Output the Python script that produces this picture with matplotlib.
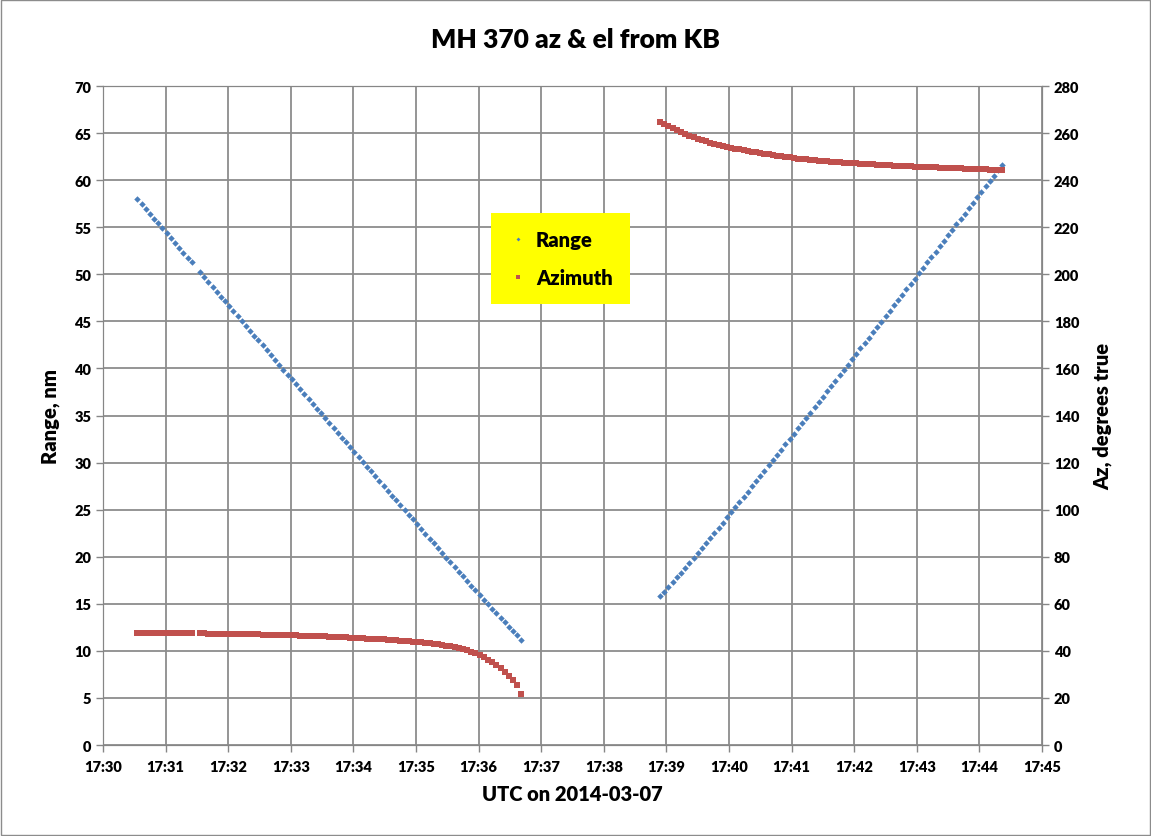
import numpy as np
import matplotlib
matplotlib.use("Agg")
import matplotlib.pyplot as plt

W = 'heavy'
plt.rcParams['font.family'] = ['Lato', 'DejaVu Sans']
plt.rcParams['font.weight'] = W
plt.rcParams['axes.labelweight'] = W

# samples every 4 s; times in seconds after 17:30:00
STEP_S = 4
SEG1_START_S = 33    # 17:30:33
SEG2_START_S = 534   # 17:38:54

# first pass (inbound), one sample missing near 17:31:29
range_1 = [58.00, 57.48, 56.96, 56.44, 55.92, 55.41, 54.89, 54.37, 53.85, 53.33,
           52.81, 52.29, 51.77, 51.26, np.nan, 50.22, 49.70, 49.18, 48.66, 48.15,
           47.63, 47.11, 46.59, 46.07, 45.56, 45.04, 44.52, 44.00, 43.48, 42.97,
           42.45, 41.93, 41.42, 40.90, 40.38, 39.86, 39.35, 38.83, 38.32, 37.80,
           37.28, 36.77, 36.25, 35.74, 35.22, 34.70, 34.19, 33.68, 33.16, 32.65,
           32.14, 31.62, 31.10, 30.59, 30.08, 29.57, 29.06, 28.54, 28.03, 27.52,
           27.01, 26.50, 26.00, 25.48, 24.97, 24.46, 23.96, 23.45, 22.95, 22.43,
           21.92, 21.42, 20.92, 20.42, 19.91, 19.41, 18.91, 18.41, 17.92, 17.42,
           16.92, 16.43, 15.94, 15.45, 14.97, 14.48, 14.00, 13.52, 13.05, 12.58,
           12.11, 11.64, 11.19]
az_1 = [47.45, 47.47, 47.48, 47.50, 47.51, 47.52, 47.52, 47.53, 47.53, 47.52,
        47.52, 47.51, 47.50, 47.48, np.nan, 47.43, 47.40, 47.37, 47.34, 47.31,
        47.27, 47.23, 47.20, 47.16, 47.13, 47.10, 47.07, 47.04, 47.01, 46.98,
        46.94, 46.90, 46.86, 46.82, 46.78, 46.73, 46.68, 46.63, 46.58, 46.52,
        46.46, 46.40, 46.33, 46.26, 46.19, 46.12, 46.04, 45.96, 45.88, 45.80,
        45.71, 45.62, 45.53, 45.44, 45.35, 45.25, 45.15, 45.05, 44.95, 44.84,
        44.73, 44.62, 44.50, 44.38, 44.25, 44.10, 43.95, 43.80, 43.65, 43.45,
        43.25, 43.05, 42.80, 42.55, 42.25, 41.95, 41.60, 41.20, 40.80, 40.30,
        39.70, 39.00, 38.20, 37.30, 36.30, 35.10, 34.00, 32.70, 31.00, 29.30,
        27.70, 25.60, 21.70]

# second pass (outbound)
range_2 = [15.80, 16.29, 16.79, 17.30, 17.81, 18.32, 18.84, 19.36, 19.89, 20.41,
           20.94, 21.47, 22.01, 22.55, 23.09, 23.63, 24.17, 24.72, 25.27, 25.82,
           26.37, 26.92, 27.47, 28.03, 28.58, 29.14, 29.69, 30.25, 30.82, 31.37,
           31.93, 32.49, 33.05, 33.62, 34.18, 34.75, 35.31, 35.87, 36.45, 37.01,
           37.57, 38.14, 38.71, 39.28, 39.85, 40.41, 40.98, 41.55, 42.13, 42.69,
           43.26, 43.83, 44.40, 44.98, 45.55, 46.12, 46.69, 47.26, 47.84, 48.41,
           48.98, 49.55, 50.13, 50.71, 51.28, 51.85, 52.42, 53.00, 53.58, 54.15,
           54.72, 55.30, 55.87, 56.45, 57.03, 57.60, 58.17, 58.75, 59.33, 59.91,
           60.48, 61.05, 61.63]
az_2 = [264.80, 263.88, 262.97, 262.05, 261.13, 260.25, 259.58, 258.88, 258.18, 257.56,
        257.02, 256.48, 255.94, 255.45, 255.02, 254.58, 254.13, 253.75, 253.41, 253.06,
        252.72, 252.42, 252.12, 251.82, 251.53, 251.25, 250.95, 250.66, 250.38, 250.12,
        249.88, 249.63, 249.39, 249.17, 248.98, 248.78, 248.58, 248.41, 248.25, 248.10,
        247.94, 247.82, 247.69, 247.56, 247.44, 247.33, 247.23, 247.13, 247.02, 246.92,
        246.81, 246.71, 246.61, 246.51, 246.41, 246.31, 246.22, 246.12, 246.02, 245.92,
        245.84, 245.77, 245.69, 245.62, 245.54, 245.46, 245.39, 245.31, 245.24, 245.17,
        245.10, 245.02, 244.95, 244.88, 244.81, 244.75, 244.69, 244.62, 244.56, 244.49,
        244.43, 244.36, 244.30]

x_ticklabels = ["17:30", "17:31", "17:32", "17:33", "17:34", "17:35", "17:36", "17:37",
                "17:38", "17:39", "17:40", "17:41", "17:42", "17:43", "17:44", "17:45"]

# minutes after 17:30
t1 = (SEG1_START_S + STEP_S * np.arange(len(range_1))) / 60
t2 = (SEG2_START_S + STEP_S * np.arange(len(range_2))) / 60

t_all = np.concatenate([t1, [np.nan], t2])
range_all = np.concatenate([range_1, [np.nan], range_2])
az_all = np.concatenate([az_1, [np.nan], az_2])

BLUE = '#4a7ebb'
RED = '#c0504d'
GRID = '#8c8c8c'
AXIS = '#868686'

fig = plt.figure(figsize=(11.51, 8.37), dpi=100)
ax = fig.add_axes([103 / 1151, 1 - 746 / 837, 939 / 1151, 659 / 837])
ax2 = ax.twinx()

h1, = ax.plot(t_all, range_all, linestyle='none', marker='D', markersize=3.3,
              color=BLUE, markeredgewidth=0, label='Range')
h2, = ax2.plot(t_all, az_all, linestyle='none', marker='s', markersize=4.2,
               color=RED, markeredgewidth=0, label='Azimuth')

ax.set_xlim(0, 15)
ax.set_ylim(0, 70)
ax2.set_ylim(0, 280)
ax.set_xticks(range(16))
ax.set_xticklabels(x_ticklabels, fontweight=W)
ax.set_yticks(range(0, 71, 5))
ax2.set_yticks(range(0, 281, 20))

ax.grid(True, color=GRID, linewidth=1.3)
ax.set_axisbelow(True)
for a in (ax, ax2):
    for s in a.spines.values():
        s.set_color(AXIS)
    a.tick_params(direction='out', length=5, color=AXIS, labelsize=10.5, width=1)
    for lab in a.get_yticklabels():
        lab.set_fontweight(W)
ax.tick_params(axis='x', pad=6)

ax.set_xlabel('UTC on 2014-03-07', fontsize=14.5, fontweight=W, labelpad=8)
ax.set_ylabel('Range, nm', fontsize=14.5, fontweight=W, labelpad=10)
ax2.set_ylabel('Az, degrees true', fontsize=14.5, fontweight=W, labelpad=10)

fig.text(0.4996, 1 - 40 / 837, 'MH 370 az & el from KB', fontsize=19,
         fontweight=W, ha='center', va='center')

leg = ax2.legend(handles=[h1, h2], loc='upper left', bbox_to_anchor=(0.413, 0.808),
                 prop={'size': 14.5, 'weight': W}, frameon=True, fancybox=False,
                 framealpha=1, facecolor='yellow', edgecolor='none', markerscale=0.6,
                 handlelength=1.0, handletextpad=0.4, labelspacing=0.95,
                 borderpad=0.85, borderaxespad=0)

fig.add_artist(plt.Rectangle((0.0006, 0.0008), 0.9985, 0.9982, transform=fig.transFigure,
                             fill=False, edgecolor='#8c8c8c', linewidth=1))

fig.savefig('out.png', dpi=100)
